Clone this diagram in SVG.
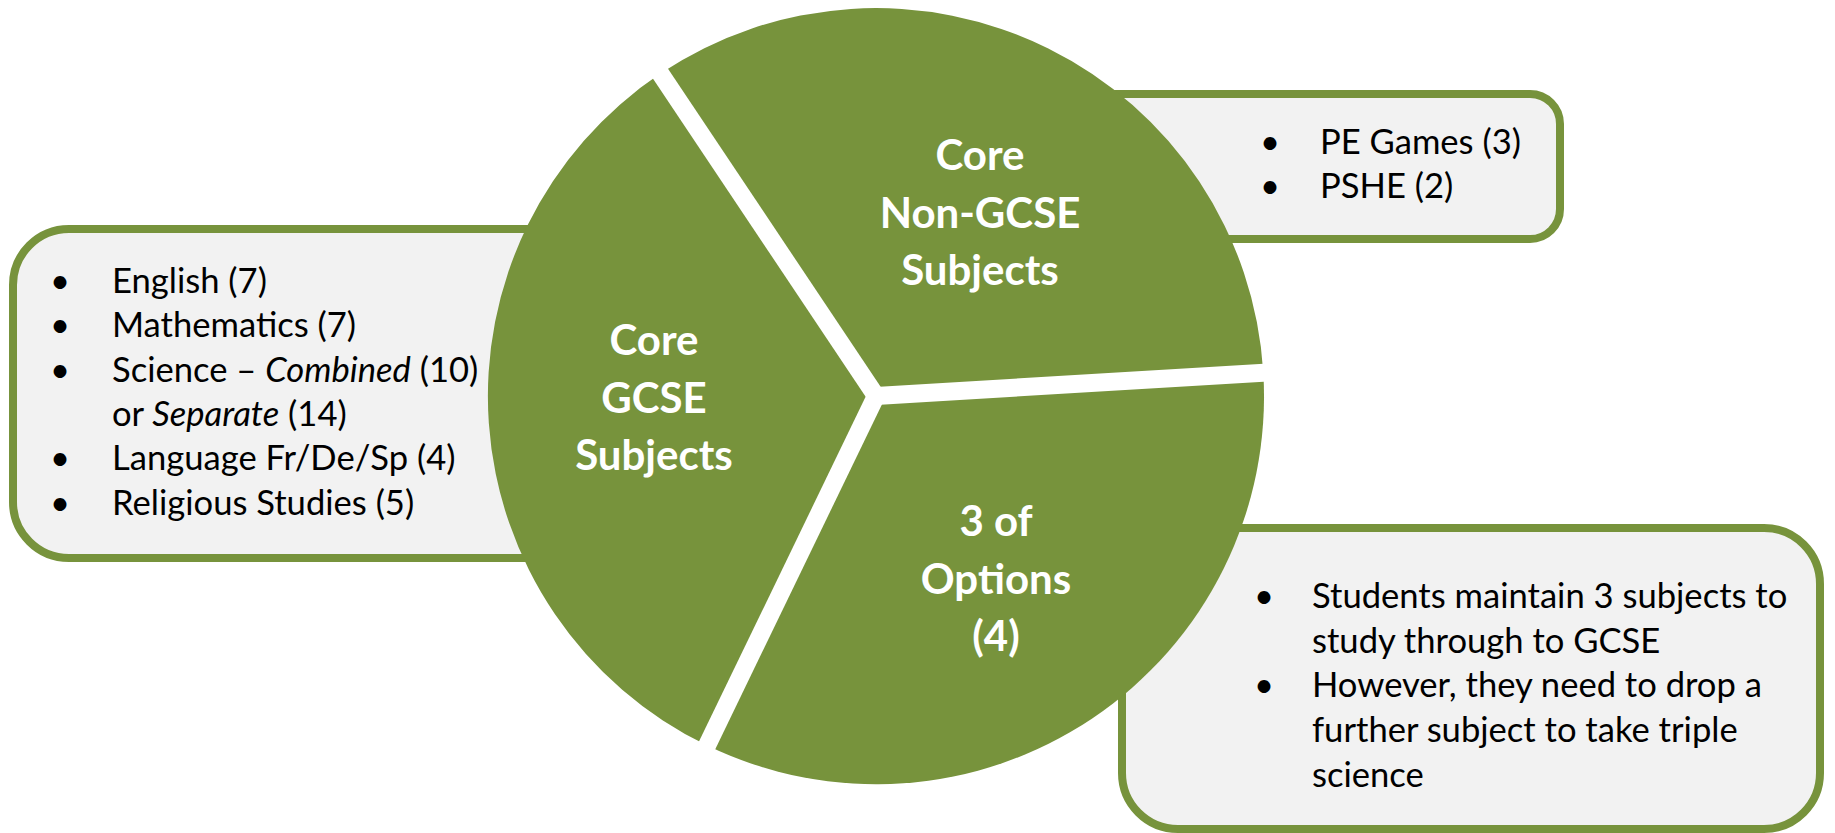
<svg xmlns="http://www.w3.org/2000/svg" width="1835" height="833" viewBox="0 0 1835 833">
<style>
.box{fill:#F2F2F2;stroke:#77933C;stroke-width:8}
.slice{fill:#77933C}
.gap{stroke:#FFFFFF;stroke-width:18;stroke-linecap:butt;fill:none}
.t{font-family:Lato,"Liberation Sans",sans-serif;font-size:34.6px;fill:#000000}
.lbl{font-family:Lato,"Liberation Sans",sans-serif;font-size:42px;font-weight:bold;fill:#FFFFFF;text-anchor:middle}
</style>
<rect width="1835" height="833" fill="#FFFFFF"/>
<g id="box-core-gcse">
<rect class="box" x="13" y="229" width="700" height="329" rx="56"/>
<text class="t"><tspan x="50" y="293">•</tspan><tspan x="112" y="293">English (7)</tspan></text>
<text class="t"><tspan x="50" y="337">•</tspan><tspan x="112" y="337">Mathematics (7)</tspan></text>
<text class="t"><tspan x="50" y="382">•</tspan><tspan x="112" y="382">Science – <tspan font-style="italic">Combined</tspan> (10)</tspan></text>
<text class="t" x="112" y="426">or <tspan font-style="italic">Separate</tspan> (14)</text>
<text class="t"><tspan x="50" y="470">•</tspan><tspan x="112" y="470">Language Fr/De/Sp (4)</tspan></text>
<text class="t"><tspan x="50" y="515">•</tspan><tspan x="112" y="515">Religious Studies (5)</tspan></text>
</g>
<g id="box-non-gcse">
<rect class="box" x="1000" y="94" width="560" height="145" rx="30"/>
<text class="t"><tspan x="1260" y="154">•</tspan><tspan x="1320" y="154">PE Games (3)</tspan></text>
<text class="t"><tspan x="1260" y="198">•</tspan><tspan x="1320" y="198">PSHE (2)</tspan></text>
</g>
<g id="box-options">
<rect class="box" x="1122" y="528" width="698" height="301" rx="56"/>
<text class="t"><tspan x="1254" y="608">•</tspan><tspan x="1312" y="608">Students maintain 3 subjects to</tspan></text>
<text class="t" x="1312" y="653">study through to GCSE</text>
<text class="t"><tspan x="1254" y="697">•</tspan><tspan x="1312" y="697">However, they need to drop a</tspan></text>
<text class="t" x="1312" y="742">further subject to take triple</text>
<text class="t" x="1312" y="787">science</text>
</g>
<g id="slice-non-gcse">
<path class="slice" d="M876 396 L660.3 73.6 A388 388 0 0 1 1263.3 372.4 Z"/>
<text class="lbl"><tspan x="980" y="170">Core</tspan><tspan x="980" y="228">Non-GCSE</tspan><tspan x="980" y="285">Subjects</tspan></text>
</g>
<g id="slice-core-gcse">
<path class="slice" d="M876 396 L707.2 745.6 A388 388 0 0 1 660.3 73.6 Z"/>
<text class="lbl"><tspan x="654" y="355">Core</tspan><tspan x="654" y="413">GCSE</tspan><tspan x="654" y="470">Subjects</tspan></text>
</g>
<g id="slice-options">
<path class="slice" d="M876 396 L1263.3 372.4 A388 388 0 0 1 707.2 745.6 Z"/>
<text class="lbl"><tspan x="996" y="536">3 of</tspan><tspan x="996" y="594">Options</tspan><tspan x="996" y="651">(4)</tspan></text>
</g>
<g id="connectors">
<line class="gap" x1="876" y1="396" x2="652" y2="61"/>
<line class="gap" x1="876" y1="396" x2="1276" y2="372"/>
<line class="gap" x1="876" y1="396" x2="701" y2="758"/>
</g>
</svg>
